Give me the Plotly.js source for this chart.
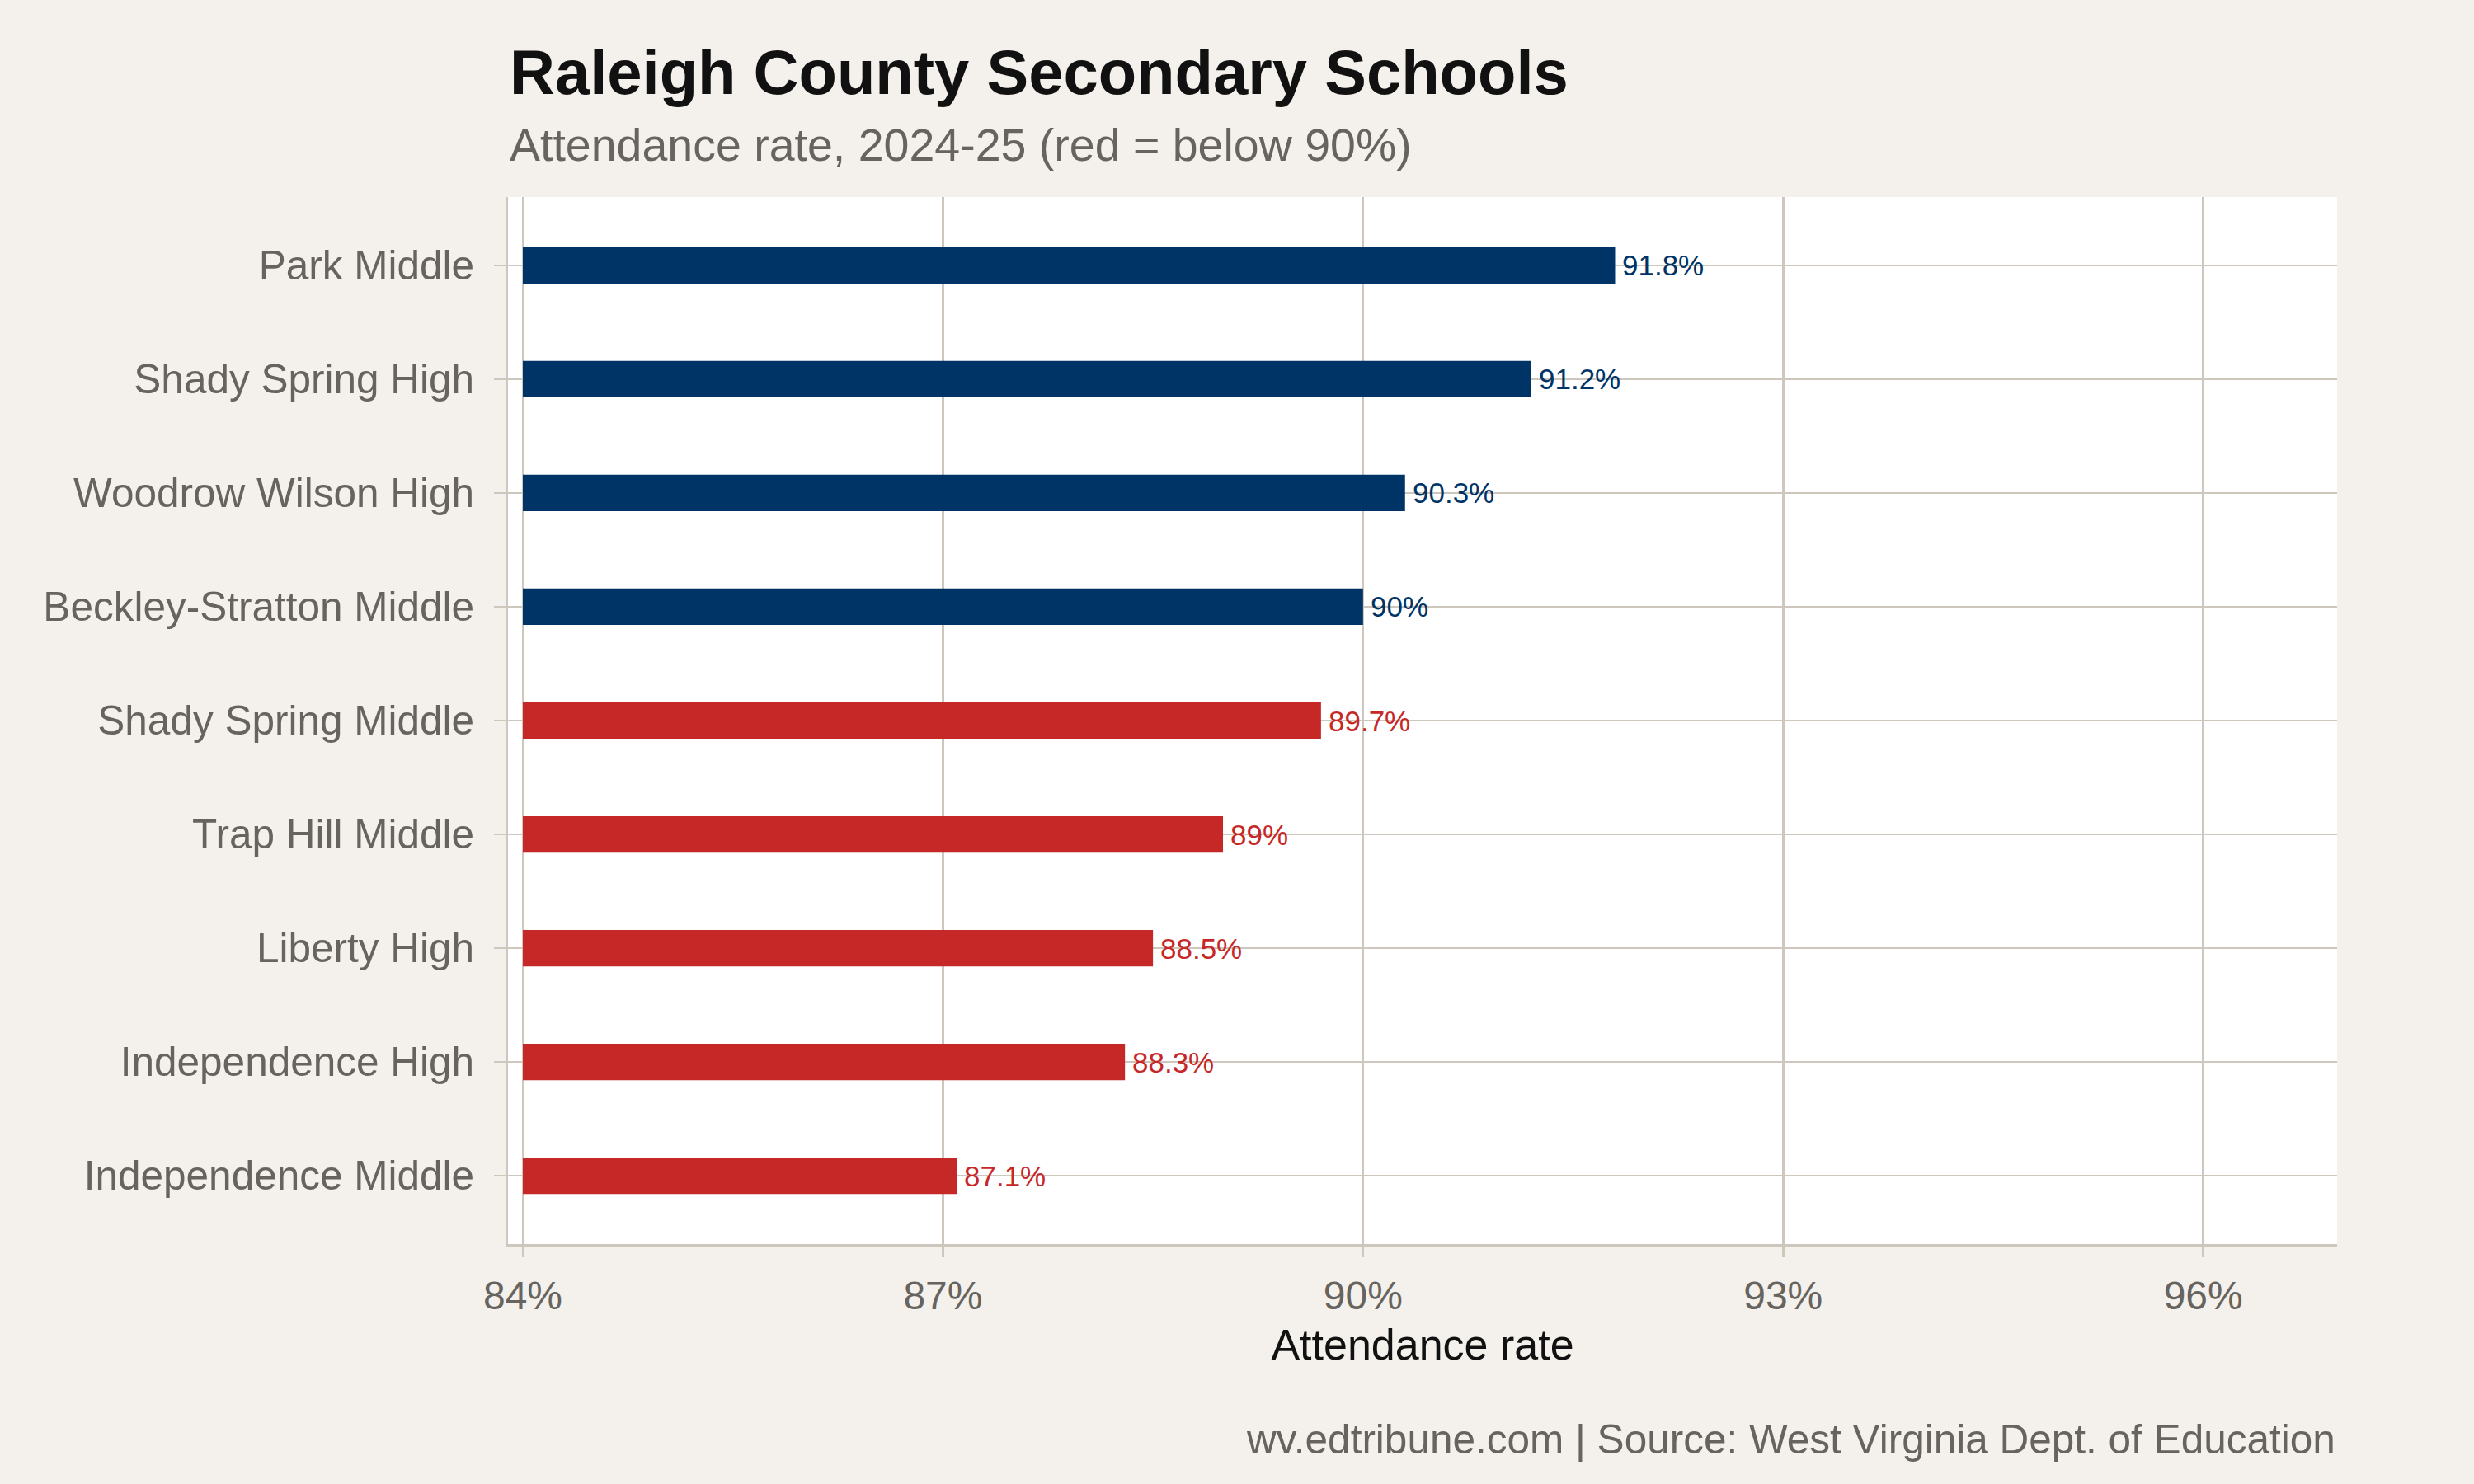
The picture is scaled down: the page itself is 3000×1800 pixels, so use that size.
<!DOCTYPE html>
<html>
<head>
<meta charset="utf-8">
<script src="https://cdn.plot.ly/plotly-3.0.1.min.js"></script>
<style>
  html, body { margin: 0; padding: 0; background: #f4f1ec; }
  #chart { width: 3000px; height: 1800px; }
</style>
</head>
<body>
<div id="chart"></div>
<script>
// Raleigh County secondary schools, attendance rate 2024-25 (top to bottom)
const schools = [
  "Park Middle",
  "Shady Spring High",
  "Woodrow Wilson High",
  "Beckley-Stratton Middle",
  "Shady Spring Middle",
  "Trap Hill Middle",
  "Liberty High",
  "Independence High",
  "Independence Middle"
];
const attendance = [91.8, 91.2, 90.3, 90.0, 89.7, 89.0, 88.5, 88.3, 87.1];
const threshold = 90;
const barFloor = 84;
const xTicks = [84, 87, 90, 93, 96];
const xTickLabels = ["84%", "87%", "90%", "93%", "96%"];

const NAVY = "#003366";
const RED = "#c62828";
const GRID = "#cec7bd";
const GREY_TEXT = "#67645f";
const FONT = "Liberation Sans, Arial, sans-serif";

const barColors = attendance.map(v => (v < threshold ? RED : NAVY));
const labels = attendance.map(v => String(v) + "%");

// Bars run from the 84% floor out to each school's rate
const bars = {
  type: "bar",
  orientation: "h",
  base: barFloor,
  x: attendance.map(v => v - barFloor),
  y: schools,
  width: 0.32,
  marker: { color: barColors, line: { width: 0 } },
  hoverinfo: "skip"
};

// Value labels placed just past the end of each bar
const valueLabels = schools.map((s, i) => ({
  x: attendance[i],
  y: s,
  xref: "x",
  yref: "y",
  text: labels[i],
  showarrow: false,
  xanchor: "left",
  yanchor: "middle",
  xshift: 7,
  font: { family: FONT, size: 35, color: barColors[i] }
}));

const textNotes = [
  {
    text: "Raleigh County Secondary Schools",
    xref: "paper", yref: "paper", x: 0, y: 1.1189,
    xanchor: "left", yanchor: "middle", showarrow: false,
    font: { family: FONT, size: 76, color: "#111111", weight: "bold" }
  },
  {
    text: "Attendance rate, 2024-25 (red = below 90%)",
    xref: "paper", yref: "paper", x: 0, y: 1.0496,
    xanchor: "left", yanchor: "middle", showarrow: false,
    font: { family: FONT, size: 55.5, color: GREY_TEXT }
  },
  {
    text: "wv.edtribune.com | Source: West Virginia Dept. of Education",
    xref: "paper", yref: "paper", x: 1, y: -0.1866,
    xanchor: "right", yanchor: "middle", showarrow: false,
    font: { family: FONT, size: 49.5, color: GREY_TEXT }
  }
];

const layout = {
  width: 3000,
  height: 1800,
  paper_bgcolor: "#f4f1ec",
  plot_bgcolor: "#ffffff",
  margin: { l: 616, r: 166, t: 239, b: 291, pad: 0 },
  showlegend: false,
  font: { family: FONT, color: GREY_TEXT },
  xaxis: {
    range: [83.894, 96.956],
    tickmode: "array",
    tickvals: xTicks,
    ticktext: xTickLabels,
    showgrid: true,
    gridcolor: GRID,
    gridwidth: 2.5,
    zeroline: false,
    showline: true,
    linecolor: GRID,
    linewidth: 3,
    ticks: "outside",
    ticklen: 13,
    tickwidth: 2.5,
    tickcolor: GRID,
    ticklabelstandoff: 5,
    tickfont: { family: FONT, size: 48, color: GREY_TEXT },
    title: {
      text: "Attendance rate",
      font: { family: FONT, size: 52, color: "#111111" },
      standoff: 17
    }
  },
  yaxis: {
    type: "category",
    categoryorder: "array",
    categoryarray: schools,
    range: [8.6, -0.6],
    showgrid: true,
    gridcolor: GRID,
    gridwidth: 2.5,
    zeroline: false,
    showline: true,
    linecolor: GRID,
    linewidth: 3,
    ticks: "outside",
    ticklen: 14,
    tickwidth: 2.5,
    tickcolor: GRID,
    tickfont: { family: FONT, size: 49.5, color: GREY_TEXT },
    ticklabelstandoff: 14
  },
  annotations: valueLabels.concat(textNotes)
};

Plotly.newPlot("chart", [bars], layout, { staticPlot: true, displayModeBar: false });
</script>
</body>
</html>
